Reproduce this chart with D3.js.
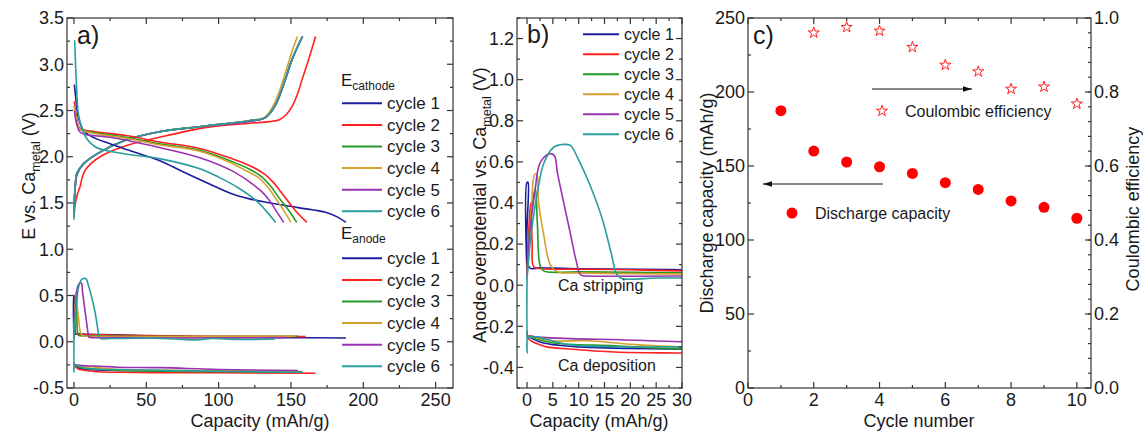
<!DOCTYPE html>
<html>
<head>
<meta charset="utf-8">
<script src="https://cdnjs.cloudflare.com/ajax/libs/d3/7.8.5/d3.min.js"></script>
<style>
  body { margin: 0; background: #fff; }
  svg text { font-family: "Liberation Sans", Arial, sans-serif; fill: #1a1a1a; }
</style>
</head>
<body>
<svg id="chart" width="1143" height="433"></svg>
<script>
const cycles = ["cycle 1", "cycle 2", "cycle 3", "cycle 4", "cycle 5", "cycle 6"];
const colors = ["#1c1c9e", "#ff2020", "#229922", "#d4a030", "#9932b0", "#2a9d9d"];

// [capacity mAh/g, potential V]
const cathodeCharge = [
  [[0,1.45],[1,1.7],[2,1.8],[6.4,1.92],[18,2.05],[36,2.18],[59,2.27],[90,2.33],[121,2.39],[132,2.42],[139,2.55],[146,2.83],[150,3.02],[154,3.17],[158,3.3]],
  [[0,1.35],[1,1.5],[2.5,1.6],[4.1,1.67],[7.6,1.85],[18,2.0],[36,2.12],[59,2.21],[93,2.32],[120,2.36],[135,2.38],[142,2.4],[147,2.46],[151,2.55],[155,2.7],[158,2.85],[162,3.04],[167,3.3]],
  [[0,1.4],[1,1.7],[2,1.82],[6.4,1.92],[18,2.05],[36,2.18],[59,2.27],[90,2.33],[121,2.39],[132,2.42],[139,2.55],[146,2.83],[150,3.02],[154,3.17],[158,3.3]],
  [[0,1.4],[1,1.7],[2,1.82],[6.4,1.92],[18,2.05],[36,2.18],[59,2.27],[90,2.33],[121,2.39],[132,2.43],[138,2.56],[144,2.8],[148,3.0],[151,3.15],[154.5,3.3]],
  [[0,1.4],[1,1.7],[2,1.82],[6.4,1.92],[18,2.05],[36,2.18],[59,2.27],[90,2.33],[121,2.38],[132,2.42],[139,2.55],[146,2.83],[150,3.02],[154,3.17],[158,3.3]],
  [[0,1.32],[1,1.7],[2,1.82],[6.4,1.92],[18,2.05],[36,2.18],[59,2.27],[90,2.33],[121,2.39],[132,2.42],[139,2.55],[146,2.83],[150,3.02],[154,3.17],[158,3.3]]
];
const cathodeDischarge = [
  [[0.3,2.78],[1.5,2.6],[3,2.43],[6.4,2.29],[12,2.22],[25,2.14],[40,2.06],[59,1.96],[75,1.84],[93,1.71],[109,1.6],[120,1.55],[132,1.51],[155,1.45],[174,1.4],[182,1.35],[188,1.29]],
  [[0.3,2.6],[1.5,2.45],[4,2.31],[15,2.27],[36,2.23],[59,2.16],[87,2.09],[109,1.98],[122,1.9],[132,1.81],[138,1.72],[144,1.6],[153,1.42],[161,1.29]],
  [[0.3,2.55],[1.5,2.42],[4,2.3],[15,2.26],[36,2.21],[59,2.14],[87,2.07],[109,1.95],[122,1.86],[130,1.78],[136,1.68],[142,1.55],[148,1.43],[154,1.29]],
  [[0.3,2.55],[1.5,2.42],[4,2.3],[15,2.25],[36,2.2],[59,2.13],[87,2.06],[109,1.93],[120,1.84],[128,1.77],[134,1.67],[139,1.56],[145,1.42],[150,1.29]],
  [[0.3,2.5],[1.5,2.38],[4,2.27],[8,2.24],[25,2.21],[59,2.1],[87,1.99],[109,1.85],[123,1.71],[130,1.62],[135,1.53],[140,1.41],[145,1.29]],
  [[0.5,3.26],[1.8,2.76],[3,2.47],[5.3,2.32],[8.7,2.2],[15.6,2.1],[36,2.03],[59,1.98],[87,1.87],[100,1.78],[114,1.66],[125.6,1.53],[132.5,1.42],[139.4,1.29]]
];
const anodeStripping = [
  [[0,0.05],[0,0.5],[0.2,0.5],[0.5,0.085],[2.5,0.085],[10,0.08],[30,0.075],[60,0.06],[100,0.05],[150,0.045],[188,0.04]],
  [[0,0.05],[0.4,0.3],[0.7,0.4],[1.0,0.2],[1.3,0.09],[3,0.08],[10,0.078],[20,0.075],[30,0.07],[60,0.065],[100,0.06],[160,0.055]],
  [[0,0.05],[0.6,0.3],[1.6,0.47],[2.0,0.3],[2.5,0.1],[3.2,0.07],[10,0.065],[30,0.06],[80,0.055],[155,0.06]],
  [[0,0.05],[0.8,0.35],[1.5,0.54],[1.9,0.54],[2.2,0.41],[3.2,0.25],[4.5,0.1],[5.9,0.065],[10,0.06],[30,0.055],[80,0.055],[153,0.06]],
  [[0,0.04],[0.5,0.25],[1.5,0.45],[2.3,0.58],[3.2,0.62],[4.5,0.64],[5.3,0.63],[5.9,0.545],[7.8,0.32],[8.4,0.25],[9.5,0.12],[10.4,0.05],[12,0.045],[30,0.045],[80,0.04],[146,0.045]],
  [[0,0.03],[0.8,0.25],[2,0.45],[3.2,0.59],[5.1,0.67],[7.1,0.685],[8.4,0.68],[9.8,0.62],[12.3,0.48],[14.6,0.32],[16.3,0.155],[17.3,0.057],[18.2,0.034],[25,0.035],[30,0.035],[50,0.04],[70,0.03],[85,0.02],[95,0.035],[105,0.03],[120,0.025],[139,0.03]]
];
const anodeDeposition = [
  [[0.3,-0.25],[3,-0.28],[10,-0.3],[30,-0.31],[100,-0.32],[158,-0.33]],
  [[0,-0.22],[0.3,-0.26],[2.5,-0.29],[3.8,-0.3],[8,-0.31],[17,-0.325],[30,-0.33],[60,-0.335],[100,-0.335],[167,-0.34]],
  [[0.3,-0.25],[5,-0.28],[17,-0.295],[30,-0.31],[80,-0.32],[157,-0.33]],
  [[0.3,-0.245],[5,-0.27],[12,-0.27],[21.6,-0.29],[30,-0.3],[80,-0.31],[155,-0.32]],
  [[0.3,-0.245],[1.2,-0.25],[8.4,-0.26],[18,-0.265],[30,-0.275],[60,-0.28],[100,-0.3],[155,-0.31]],
  [[0,0.04],[0.05,-0.33],[0.3,-0.255],[8.4,-0.29],[18,-0.3],[30,-0.3],[80,-0.315],[158,-0.33]]
];

const cycleNumbers = [1, 2, 3, 4, 5, 6, 7, 8, 9, 10];
const dischargeCapacity = [187.4, 160.1, 152.7, 149.5, 145, 138.7, 134.2, 126.4, 122.1, 114.7];
const effCycles = [2, 3, 4, 5, 6, 7, 8, 9, 10];
const coulombicEff = [0.96, 0.975, 0.965, 0.921, 0.873, 0.855, 0.808, 0.814, 0.768];

const ticksA = { x: d3.range(0, 251, 50), xMinor: d3.range(25, 261, 50), y: d3.range(-0.5, 3.51, 0.5), yMinor: d3.range(-0.25, 3.5, 0.5) };
const ticksB = { x: d3.range(0, 31, 5), xMinor: d3.range(2.5, 30, 5), y: d3.range(-0.4, 1.21, 0.2), yMinor: d3.range(-0.5, 1.31, 0.2) };
const ticksC = { x: d3.range(0, 11, 2), xMinor: d3.range(1, 11, 2), y: d3.range(0, 251, 50), yMinor: d3.range(25, 250, 50), y2: d3.range(0, 1.01, 0.2), y2Minor: d3.range(0.04, 1, 0.04) };

const svg = d3.select("#chart");
const plotTop = 18, plotBottom = 388;
const frameColor = "#333";

const path = (x, y) => d3.line()
  .x(d => x(d[0]))
  .y(d => y(d[1]))
  .curve(d3.curveCatmullRom.alpha(0.5));

// frame with inward ticks on all four sides
function frame(g, x, y, t, opts = {}) {
  const [x0, x1] = x.range(), [y0, y1] = y.range();
  const tg = g.append("g").attr("stroke", frameColor).attr("stroke-width", 1.2);
  const tick = (vals, len, isX) => vals.forEach(v => {
    if (isX) {
      const px = x(v);
      if (px < x0 || px > x1) return;
      tg.append("line").attr("x1", px).attr("x2", px).attr("y1", y0).attr("y2", y0 - len);
      tg.append("line").attr("x1", px).attr("x2", px).attr("y1", y1).attr("y2", y1 + len);
    } else {
      const py = y(v);
      if (py > y0 || py < y1) return;
      tg.append("line").attr("x1", x0).attr("x2", x0 + len).attr("y1", py).attr("y2", py);
      if (!opts.y2) tg.append("line").attr("x1", x1).attr("x2", x1 - len).attr("y1", py).attr("y2", py);
    }
  });
  tick(t.x, 6, true);
  tick(t.xMinor, 3, true);
  tick(t.y, 6, false);
  tick(t.yMinor, 3, false);
  if (opts.y2) {
    t.y2.forEach(v => tg.append("line").attr("x1", x1).attr("x2", x1 - 6).attr("y1", opts.y2(v)).attr("y2", opts.y2(v)));
    t.y2Minor.forEach(v => tg.append("line").attr("x1", x1).attr("x2", x1 - 3).attr("y1", opts.y2(v)).attr("y2", opts.y2(v)));
  }
  tg.append("rect").attr("x", x0).attr("y", y1).attr("width", x1 - x0).attr("height", y0 - y1)
    .attr("fill", "none");

  const lab = svg.append("g").attr("font-size", 18);
  t.x.forEach(v => lab.append("text").attr("x", x(v)).attr("y", y0 + 18).attr("text-anchor", "middle").text(v));
  t.y.forEach(v => lab.append("text").attr("x", x0 - 3).attr("y", y(v)).attr("dy", "0.35em").attr("text-anchor", "end").text(opts.fy(v)));
  if (opts.y2) {
    t.y2.forEach(v => lab.append("text").attr("x", x1 + 3).attr("y", opts.y2(v)).attr("dy", "0.35em").text(v.toFixed(1)));
  }
}

function rotTitle(x, y, parts) {
  const t = svg.append("text").attr("transform", `translate(${x},${y}) rotate(-90)`)
    .attr("text-anchor", "middle").attr("font-size", 18);
  parts.forEach(p => {
    const s = t.append("tspan").text(p.text);
    if (p.sub) s.attr("font-size", 12.5).attr("dy", 5);
    if (p.after) s.attr("dy", -5);
  });
}

function legend(lx, ly, step, gap, len, fs) {
  cycles.forEach((c, i) => {
    svg.append("line").attr("x1", lx).attr("x2", lx + len).attr("y1", ly + i * step).attr("y2", ly + i * step)
      .attr("stroke", colors[i]).attr("stroke-width", 2);
    svg.append("text").attr("x", lx + len + gap).attr("y", ly + i * step).attr("dy", "0.35em")
      .attr("font-size", fs).text(c);
  });
}

// ---------- panel a ----------
const xA = d3.scaleLinear().domain([-4.8, 262]).range([67, 453]);
const yA = d3.scaleLinear().domain([-0.5, 3.5]).range([plotBottom, plotTop]);
const gA = svg.append("g");
[cathodeCharge, cathodeDischarge, anodeDeposition, anodeStripping].forEach(set => {
  set.forEach((d, i) => {
    gA.append("path").datum(d).attr("fill", "none").attr("stroke", colors[i])
      .attr("stroke-width", 1.6).attr("d", path(xA, yA));
  });
});
frame(svg.append("g"), xA, yA, ticksA, { fy: v => v.toFixed(1) });
legend(342, 103.3, 21.6, 5, 40, 17);
legend(342, 258.3, 21.6, 5, 40, 17);
[["cathode", 80], ["anode", 233]].forEach(([s, yy]) => {
  const t = svg.append("text").attr("x", 341).attr("y", yy + 6).attr("font-size", 17);
  t.append("tspan").text("E");
  t.append("tspan").attr("font-size", 12).attr("dy", 4).text(s);
});
svg.append("text").attr("x", 77).attr("y", 44).attr("font-size", 25).text("a)");
svg.append("text").attr("x", 260).attr("y", 427).attr("text-anchor", "middle").attr("font-size", 18).text("Capacity (mAh/g)");
rotTitle(35, 176, [{ text: "E vs. Ca" }, { text: "metal", sub: true }, { text: " (V)", after: true }]);

// ---------- panel b ----------
const xB = d3.scaleLinear().domain([-1.94, 30]).range([517, 682]);
const yB = d3.scaleLinear().domain([-0.5, 1.3]).range([plotBottom, plotTop]);
svg.append("defs").append("clipPath").attr("id", "clipB")
  .append("rect").attr("x", 517).attr("y", plotTop).attr("width", 165).attr("height", plotBottom - plotTop);
const gB = svg.append("g").attr("clip-path", "url(#clipB)");
[anodeDeposition, anodeStripping].forEach(set => {
  set.forEach((d, i) => {
    gB.append("path").datum(d).attr("fill", "none").attr("stroke", colors[i])
      .attr("stroke-width", 1.6).attr("d", path(xB, yB));
  });
});
frame(svg.append("g"), xB, yB, ticksB, { fy: v => v.toFixed(1) });
legend(583, 34.3, 20, 5, 36, 16);
svg.append("text").attr("x", 527).attr("y", 43).attr("font-size", 25).text("b)");
svg.append("text").attr("x", 558).attr("y", 291).attr("font-size", 16).text("Ca stripping");
svg.append("text").attr("x", 558).attr("y", 371).attr("font-size", 16).text("Ca deposition");
svg.append("text").attr("x", 599).attr("y", 427).attr("text-anchor", "middle").attr("font-size", 18).text("Capacity (mAh/g)");
rotTitle(486, 205, [{ text: "Anode overpotential vs. Ca" }, { text: "metal", sub: true }, { text: " (V)", after: true }]);

// ---------- panel c ----------
const xC = d3.scaleLinear().domain([0, 10.43]).range([748, 1091]);
const yC = d3.scaleLinear().domain([0, 250]).range([plotBottom, plotTop]);
const yC2 = d3.scaleLinear().domain([0, 1]).range([plotBottom, plotTop]);
frame(svg.append("g"), xC, yC, ticksC, { fy: v => v, y2: yC2 });

const star = d3.symbol().type(d3.symbolStar).size(38);
svg.append("g").selectAll("path").data(effCycles).join("path")
  .attr("transform", (d, i) => `translate(${xC(d)},${yC2(coulombicEff[i])})`)
  .attr("d", star).attr("fill", "#fff").attr("stroke", "#ff2020").attr("stroke-width", 1);
svg.append("g").selectAll("circle").data(cycleNumbers).join("circle")
  .attr("cx", d => xC(d)).attr("cy", (d, i) => yC(dischargeCapacity[i]))
  .attr("r", 5.5).attr("fill", "#ff0000");

// annotations
svg.append("defs").append("marker").attr("id", "arr").attr("viewBox", "0 0 10 6")
  .attr("refX", 10).attr("refY", 3).attr("markerWidth", 9).attr("markerHeight", 5.4)
  .attr("markerUnits", "userSpaceOnUse").attr("orient", "auto")
  .append("path").attr("d", "M0,0L10,3L0,6Z").attr("fill", "#111");
svg.append("line").attr("x1", 872).attr("x2", 972).attr("y1", 89).attr("y2", 89)
  .attr("stroke", "#111").attr("stroke-width", 1).attr("marker-end", "url(#arr)");
svg.append("line").attr("x1", 883).attr("x2", 763).attr("y1", 184).attr("y2", 184)
  .attr("stroke", "#111").attr("stroke-width", 1).attr("marker-end", "url(#arr)");
svg.append("path").attr("transform", "translate(882,111)").attr("d", star)
  .attr("fill", "#fff").attr("stroke", "#ff2020").attr("stroke-width", 1);
svg.append("text").attr("x", 905).attr("y", 117).attr("font-size", 16).text("Coulombic efficiency");
svg.append("circle").attr("cx", 792).attr("cy", 213).attr("r", 5.5).attr("fill", "#ff0000");
svg.append("text").attr("x", 815).attr("y", 219).attr("font-size", 16).text("Discharge capacity");

svg.append("text").attr("x", 753).attr("y", 44).attr("font-size", 25).text("c)");
svg.append("text").attr("x", 919).attr("y", 427).attr("text-anchor", "middle").attr("font-size", 18).text("Cycle number");
rotTitle(713, 203, [{ text: "Discharge capacity (mAh/g)" }]);
rotTitle(1139, 209, [{ text: "Coulombic efficiency" }]);
</script>
</body>
</html>
